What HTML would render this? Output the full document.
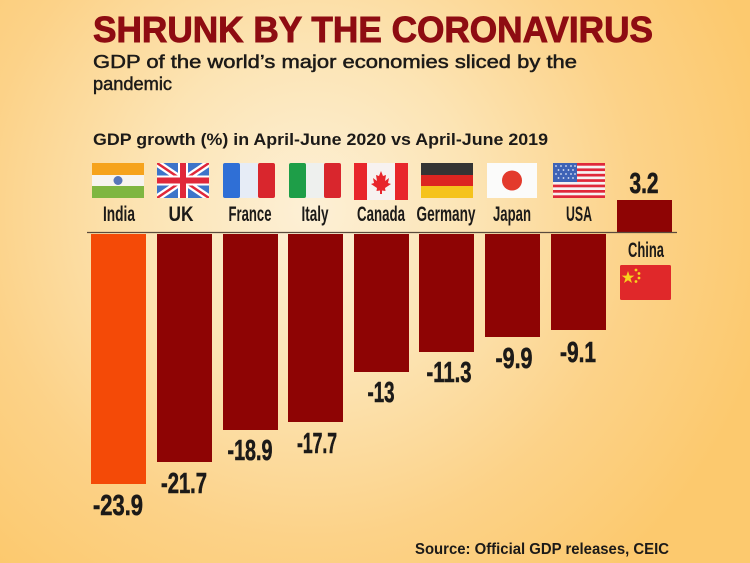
<!DOCTYPE html>
<html>
<head>
<meta charset="utf-8">
<style>
html,body{margin:0;padding:0;background:#fcca70;}
svg{display:block;}
.cn{font-family:"Liberation Sans Narrow","Liberation Sans",sans-serif;}
.s{font-family:"Liberation Sans",sans-serif;}
</style>
</head>
<body>
<svg width="750" height="563" viewBox="0 0 750 563" xmlns="http://www.w3.org/2000/svg">
  <defs>
    <radialGradient id="bg" cx="310" cy="210" r="470" gradientUnits="userSpaceOnUse">
      <stop offset="0" stop-color="#fdf0d6"/>
      <stop offset="0.35" stop-color="#fce4b4"/>
      <stop offset="0.7" stop-color="#fcd288"/>
      <stop offset="1" stop-color="#fcc96e"/>
    </radialGradient>
    <clipPath id="ukc"><rect x="0" y="0" width="52" height="35"/></clipPath>
  </defs>
  <rect x="0" y="0" width="750" height="563" fill="url(#bg)"/>

  <!-- Titles -->
  <text class="s" x="93" y="42" font-size="36" font-weight="bold" fill="#8e0c12" stroke="#8e0c12" stroke-width="0.9" textLength="560" lengthAdjust="spacingAndGlyphs">SHRUNK BY THE CORONAVIRUS</text>
  <text class="s" x="93" y="68" font-size="18.5" fill="#1c1a18" stroke="#1c1a18" stroke-width="0.5" textLength="484" lengthAdjust="spacingAndGlyphs">GDP of the world’s major economies sliced by the</text>
  <text class="s" x="93" y="90" font-size="18.5" fill="#1c1a18" stroke="#1c1a18" stroke-width="0.5" textLength="79" lengthAdjust="spacingAndGlyphs">pandemic</text>
  <text class="s" x="93" y="145" font-size="16.5" font-weight="bold" fill="#1c1a18" textLength="455" lengthAdjust="spacingAndGlyphs">GDP growth (%) in April-June 2020 vs April-June 2019</text>

  <!-- Flags -->
  <g transform="translate(92,163)">
    <rect width="52" height="12" fill="#f6a31c"/>
    <rect y="12" width="52" height="11" fill="#f7f4ee"/>
    <rect y="23" width="52" height="12" fill="#7fb640"/>
    <circle cx="26" cy="17.5" r="4.5" fill="#5876b8"/>
  </g>
  <g transform="translate(157,163)">
    <g clip-path="url(#ukc)">
      <rect width="52" height="35" fill="#3d74c9"/>
      <path d="M0,0 L52,35 M52,0 L0,35" stroke="#ffffff" stroke-width="7"/>
      <path d="M0,0 L52,35 M52,0 L0,35" stroke="#e0283a" stroke-width="2.5"/>
      <path d="M26,0 V35 M0,17.5 H52" stroke="#ffffff" stroke-width="10"/>
      <path d="M26,0 V35 M0,17.5 H52" stroke="#e0283a" stroke-width="6"/>
    </g>
  </g>
  <g transform="translate(223,163)">
    <rect width="17" height="35" rx="2" fill="#2f6fd6"/>
    <rect x="17" width="18" height="35" fill="#e6ecf6"/>
    <rect x="35" width="17" height="35" rx="2" fill="#d9262d"/>
  </g>
  <g transform="translate(289,163)">
    <rect width="17" height="35" rx="2" fill="#1e9e48"/>
    <rect x="17" width="18" height="35" fill="#eef0ee"/>
    <rect x="35" width="17" height="35" rx="2" fill="#d9262d"/>
  </g>
  <g transform="translate(354,163)">
    <rect width="13" height="37" fill="#e8262b"/>
    <rect x="13" width="28" height="37" fill="#f7f2f0"/>
    <rect x="41" width="13" height="37" fill="#e8262b"/>
    <path d="M27,8 L29,13 L32,12 L31,18 L35,15 L34,20 L37,21 L31,25 L31.5,28 L28,27.5 L28,31 L26,31 L26,27.5 L22.5,28 L23,25 L17,21 L20,20 L19,15 L23,18 L22,12 L25,13 Z" fill="#e8262b"/>
  </g>
  <g transform="translate(421,163)">
    <rect width="52" height="12" fill="#343434"/>
    <rect y="12" width="52" height="11" fill="#dc2521"/>
    <rect y="23" width="52" height="12" fill="#f5c31c"/>
  </g>
  <g transform="translate(487,163)">
    <rect width="50" height="35" fill="#fbfbfa"/>
    <circle cx="25" cy="17.5" r="10" fill="#e33a2c"/>
  </g>
  <g transform="translate(553,163)">
    <rect width="52" height="35" fill="#f6f2f2"/>
    <rect y="0" width="52" height="2.7" fill="#e0283a"/>
    <rect y="5.4" width="52" height="2.7" fill="#e0283a"/>
    <rect y="10.8" width="52" height="2.7" fill="#e0283a"/>
    <rect y="16.2" width="52" height="2.7" fill="#e0283a"/>
    <rect y="21.6" width="52" height="2.7" fill="#e0283a"/>
    <rect y="27" width="52" height="2.7" fill="#e0283a"/>
    <rect y="32.3" width="52" height="2.7" fill="#e0283a"/>
    <rect width="24" height="19" fill="#3e63b6"/>
    <g fill="#dfe6f5">
      <circle cx="3" cy="3" r="0.9"/><circle cx="8" cy="3" r="0.9"/><circle cx="13" cy="3" r="0.9"/><circle cx="18" cy="3" r="0.9"/><circle cx="22" cy="3" r="0.9"/>
      <circle cx="5.5" cy="7" r="0.9"/><circle cx="10.5" cy="7" r="0.9"/><circle cx="15.5" cy="7" r="0.9"/><circle cx="20" cy="7" r="0.9"/>
      <circle cx="3" cy="11" r="0.9"/><circle cx="8" cy="11" r="0.9"/><circle cx="13" cy="11" r="0.9"/><circle cx="18" cy="11" r="0.9"/><circle cx="22" cy="11" r="0.9"/>
      <circle cx="5.5" cy="15" r="0.9"/><circle cx="10.5" cy="15" r="0.9"/><circle cx="15.5" cy="15" r="0.9"/><circle cx="20" cy="15" r="0.9"/>
    </g>
  </g>

  <!-- Country labels -->
  <g class="cn" font-size="21" font-weight="bold" fill="#1c1a18" text-anchor="middle">
    <text x="119" y="221" textLength="32" lengthAdjust="spacingAndGlyphs">India</text>
    <text x="181" y="221" textLength="25" lengthAdjust="spacingAndGlyphs">UK</text>
    <text x="250" y="221" textLength="43" lengthAdjust="spacingAndGlyphs">France</text>
    <text x="315" y="221" textLength="27" lengthAdjust="spacingAndGlyphs">Italy</text>
    <text x="381" y="221" textLength="48" lengthAdjust="spacingAndGlyphs">Canada</text>
    <text x="446" y="221" textLength="59" lengthAdjust="spacingAndGlyphs">Germany</text>
    <text x="512" y="221" textLength="38" lengthAdjust="spacingAndGlyphs">Japan</text>
    <text x="579" y="221" textLength="26" lengthAdjust="spacingAndGlyphs">USA</text>
    <text x="646" y="257" textLength="36" lengthAdjust="spacingAndGlyphs">China</text>
  </g>

  <!-- Bars -->
  <rect x="91" y="234" width="55" height="250" fill="#f44a07"/>
  <g fill="#8e0404">
    <rect x="157" y="234" width="55" height="228"/>
    <rect x="223" y="234" width="55" height="196"/>
    <rect x="288" y="234" width="55" height="188"/>
    <rect x="354" y="234" width="55" height="138"/>
    <rect x="419" y="234" width="55" height="118"/>
    <rect x="485" y="234" width="55" height="103"/>
    <rect x="551" y="234" width="55" height="96"/>
    <rect x="617" y="200" width="55" height="32"/>
  </g>
  <line x1="87" y1="232.5" x2="677" y2="232.5" stroke="#5a4a3c" stroke-width="1.2"/>

  <!-- China flag -->
  <g transform="translate(620,265)">
    <rect width="51" height="35" rx="1.5" fill="#e0282a"/>
    <polygon points="8,6 9.6,10.6 14.4,10.6 10.5,13.4 12,18 8,15.2 4,18 5.5,13.4 1.6,10.6 6.4,10.6" fill="#f7d21e"/>
    <circle cx="16" cy="5" r="1.4" fill="#f7d21e"/>
    <circle cx="19" cy="8.5" r="1.4" fill="#f7d21e"/>
    <circle cx="19" cy="13" r="1.4" fill="#f7d21e"/>
    <circle cx="16" cy="16.5" r="1.4" fill="#f7d21e"/>
  </g>

  <!-- Value labels -->
  <g class="cn" font-size="29" font-weight="bold" fill="#1c1a18" stroke="#1c1a18" stroke-width="0.6" text-anchor="middle">
    <text x="118" y="515" textLength="50" lengthAdjust="spacingAndGlyphs">-23.9</text>
    <text x="184" y="493" textLength="46" lengthAdjust="spacingAndGlyphs">-21.7</text>
    <text x="250" y="460" textLength="45" lengthAdjust="spacingAndGlyphs">-18.9</text>
    <text x="317" y="453" textLength="40" lengthAdjust="spacingAndGlyphs">-17.7</text>
    <text x="381" y="402" textLength="27" lengthAdjust="spacingAndGlyphs">-13</text>
    <text x="449" y="382" textLength="45" lengthAdjust="spacingAndGlyphs">-11.3</text>
    <text x="514" y="368" textLength="37" lengthAdjust="spacingAndGlyphs">-9.9</text>
    <text x="578" y="362" textLength="36" lengthAdjust="spacingAndGlyphs">-9.1</text>
    <text x="644" y="193" textLength="29" lengthAdjust="spacingAndGlyphs">3.2</text>
  </g>

  <!-- Source -->
  <text class="cn" x="415" y="554" font-size="16" font-weight="bold" fill="#1c1a18" textLength="254" lengthAdjust="spacingAndGlyphs">Source: Official GDP releases, CEIC</text>
</svg>
</body>
</html>
